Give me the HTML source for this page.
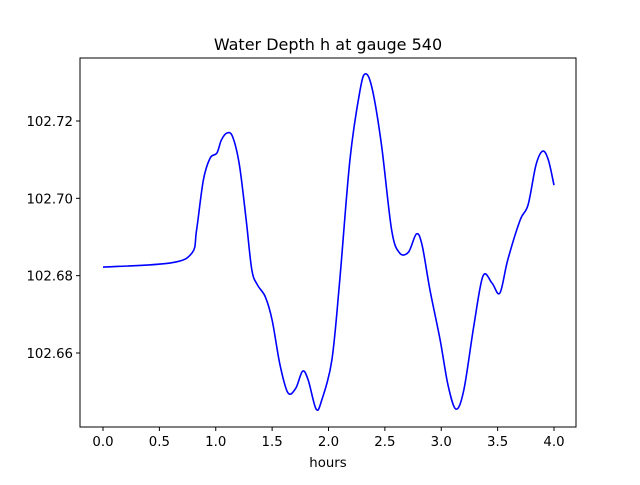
<!DOCTYPE html>
<html><head><meta charset="utf-8"><style>
body{margin:0;background:#fff;}
svg text{font-family:"DejaVu Sans","Liberation Sans",sans-serif;font-size:13.3px;fill:#000;}
</style></head><body>
<svg id="chart" width="640" height="480" viewBox="0 0 640 480" xmlns="http://www.w3.org/2000/svg">
<rect width="640" height="480" fill="#fff"/>
<text x="328" y="50" text-anchor="middle" font-size="16" style="font-size:16px">Water Depth h at gauge 540</text>
<text x="328" y="467" text-anchor="middle">hours</text>
<g id="ticks"></g>
<path id="line" fill="none" stroke="#0000ff" stroke-width="1.6"/>
<rect x="80" y="58" width="496" height="369" fill="none" stroke="#000" stroke-width="1"/>
</svg>
<script>
const hours=[0,0.6,0.79,0.83,0.89,0.95,1.01,1.05,1.1,1.15,1.21,1.27,1.32,1.37,1.44,1.5,1.57,1.64,1.71,1.77,1.82,1.89,1.94,2.03,2.1,2.19,2.28,2.33,2.39,2.47,2.56,2.63,2.71,2.78,2.83,2.9,2.99,3.06,3.13,3.2,3.29,3.37,3.45,3.52,3.59,3.7,3.77,3.84,3.9,3.95,4.0];
const depth=[102.6822,102.6833,102.6859,102.6918,102.7047,102.7104,102.7117,102.7151,102.7169,102.7159,102.7086,102.6944,102.6815,102.6776,102.6745,102.6685,102.6569,102.6497,102.6509,102.6553,102.6530,102.6455,102.6478,102.6582,102.6789,102.7099,102.7280,102.7322,102.7280,102.7138,102.6918,102.6859,102.6861,102.6908,102.6879,102.6763,102.6634,102.6517,102.6455,102.6504,102.6672,102.6799,102.6781,102.6755,102.6841,102.6944,102.6983,102.7086,102.7122,102.7099,102.7034];
const xTicks=[0,0.5,1,1.5,2,2.5,3,3.5,4];
const xTickLabels=["0.0","0.5","1.0","1.5","2.0","2.5","3.0","3.5","4.0"];
const yTicks=[102.66,102.68,102.70,102.72];
const yTickLabels=["102.66","102.68","102.70","102.72"];
const sx=v=>103+v*112.75;
const sy=v=>121-(v-102.72)*3866.5;
const NS="http://www.w3.org/2000/svg";
const g=document.getElementById('ticks');
function mk(tag,attrs,txt){const e=document.createElementNS(NS,tag);for(const k in attrs)e.setAttribute(k,attrs[k]);if(txt!=null)e.textContent=txt;g.appendChild(e);return e;}
xTicks.forEach((t,i)=>{
 const l=mk('line',{x1:sx(t),x2:sx(t),y1:427,y2:431,stroke:'#000'});
 
 
 const tx=mk('text',{x:sx(t),y:446,'text-anchor':'middle'},xTickLabels[i]);
 
 
});
yTicks.forEach((t,i)=>{
 const l=mk('line',{x1:76,x2:80,y1:sy(t),y2:sy(t),stroke:'#000'});
 
 
 const tx=mk('text',{x:73,y:sy(t)+5,'text-anchor':'end'},yTickLabels[i]);
 
 
});
const P=hours.map((h,i)=>[sx(h),sy(depth[i])]);
let d='M'+P[0][0]+','+P[0][1];
for(let i=0;i<P.length-1;i++){
 const p0=P[Math.max(0,i-1)],p1=P[i],p2=P[i+1],p3=P[Math.min(P.length-1,i+2)];
 const c1=[p1[0]+(p2[0]-p0[0])/6,p1[1]+(p2[1]-p0[1])/6];
 const c2=[p2[0]-(p3[0]-p1[0])/6,p2[1]-(p3[1]-p1[1])/6];
 d+=` C${c1[0]},${c1[1]} ${c2[0]},${c2[1]} ${p2[0]},${p2[1]}`;
}
document.getElementById('line').setAttribute('d',d);
</script>
</body></html>
